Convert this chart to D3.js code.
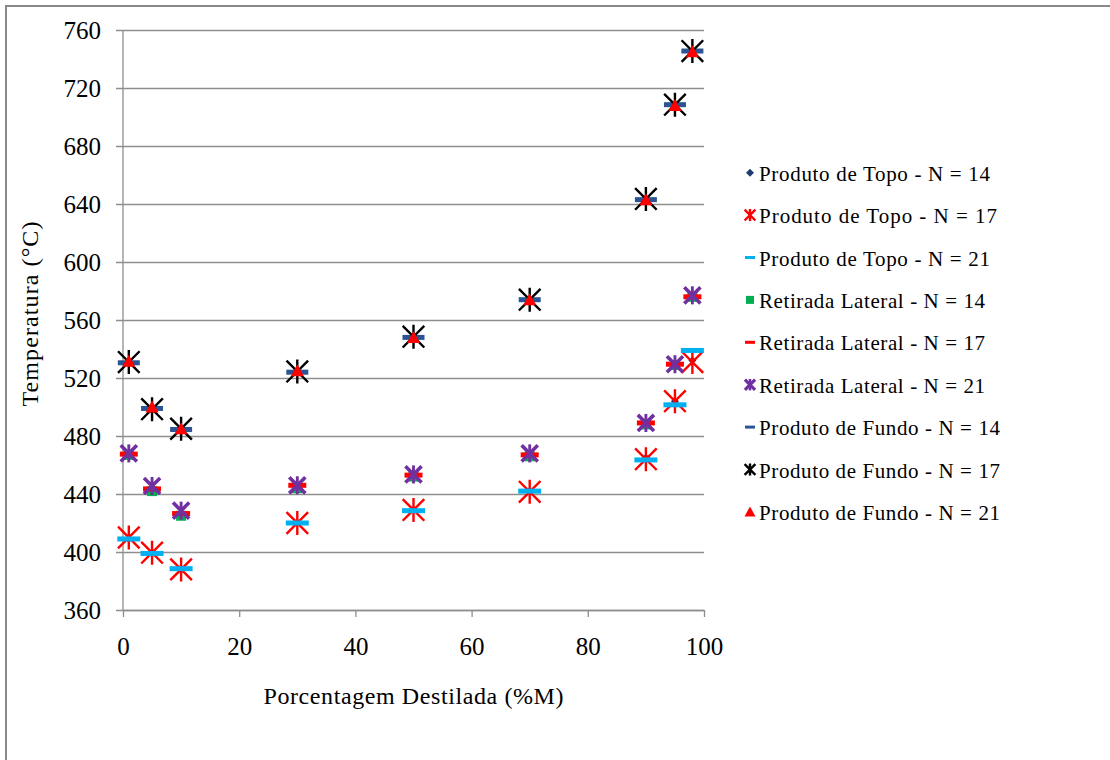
<!DOCTYPE html>
<html>
<head>
<meta charset="utf-8">
<script src="https://cdn.jsdelivr.net/npm/d3@7"></script>
<style>
  html, body { margin: 0; padding: 0; background: #fff; }
  svg { display: block; }
</style>
</head>
<body>
<svg id="chart" width="1110" height="760" font-family="Liberation Serif, Times New Roman, serif"></svg>
<script>
// Distilled fraction (%M) at which each temperature was recorded
const distilled = [1, 5, 10, 30, 50, 70, 90, 95, 98];

// Temperatures (°C) per product stream and number of stages
const topoN14 = [409, 399, 388, 420, 429, 442, 465, 504, 532];
const topoN17 = [410, 399.5, 388, 420, 429, 441.5, 464, 504, 531];
const topoN21 = [409, 399, 388.5, 420, 428.5, 442, 463.5, 501.5, 539];
const lateralN14 = [467, 442, 425, 444, 452, 466, 488, 529, 576];
const lateralN17 = [467.5, 443.5, 426.5, 446, 453, 467, 489, 529.5, 576];
const lateralN21 = [468, 445.5, 428.5, 446, 453.5, 468, 489, 529.5, 577];
const fundoN14 = [530.5, 499, 484.5, 524, 548, 574, 643, 708.5, 745.5];
const fundoN17 = [531, 498.5, 485, 524.5, 548.5, 574, 643.5, 708.5, 745.5];
const fundoN21 = [531.5, 500, 485, 525, 548, 574, 643, 708, 745];

const seriesNames = [
  "Produto de Topo - N = 14",
  "Produto de Topo -  N = 17",
  "Produto de Topo - N = 21",
  "Retirada Lateral - N = 14",
  "Retirada Lateral - N = 17",
  "Retirada Lateral - N = 21",
  "Produto de Fundo - N = 14",
  "Produto de Fundo - N = 17",
  "Produto de Fundo - N = 21"
];
const seriesValues = [topoN14, topoN17, topoN21, lateralN14, lateralN17, lateralN21, fundoN14, fundoN17, fundoN21];

const xTicks = [0, 20, 40, 60, 80, 100];
const yTicks = [360, 400, 440, 480, 520, 560, 600, 640, 680, 720, 760];

const xTitle = "Porcentagem Destilada (%M)";
const yTitle = "Temperatura (°C)";

const FONT = "Liberation Serif, Times New Roman, serif";

// Marker styling, one per series (in drawing order)
const markerStyles = [
  { type: "diamond", color: "#1f3a6e", size: 8 },
  { type: "star", color: "#ff0000", size: 24, width: 2.4 },
  { type: "dash", color: "#00b0f0", w: 23, h: 5 },
  { type: "square", color: "#00b050", size: 10 },
  { type: "dash", color: "#ff0000", w: 18, h: 5 },
  { type: "xstar", color: "#7030a0", size: 19, width: 3.6 },
  { type: "dash", color: "#2b5592", w: 22, h: 5 },
  { type: "star", color: "#000000", size: 24, width: 2.4 },
  { type: "triangle", color: "#ff0000", size: 13 }
];
const legendMarkerStyles = [
  { type: "diamond", color: "#1f3a6e", size: 8 },
  { type: "star", color: "#ff0000", size: 12, width: 2.4 },
  { type: "dash", color: "#00b0f0", w: 10, h: 3 },
  { type: "square", color: "#00b050", size: 8 },
  { type: "dash", color: "#ff0000", w: 10, h: 3 },
  { type: "xstar", color: "#7030a0", size: 12, width: 3.2 },
  { type: "dash", color: "#2b5592", w: 10, h: 3 },
  { type: "star", color: "#000000", size: 12, width: 2.4 },
  { type: "triangle", color: "#ff0000", size: 11 }
];
const legendTextWidths = [231, 238, 231, 226, 226, 226, 241, 241, 241];

const svg = d3.select("#chart");

// Outer chart frame
svg.append("rect")
  .attr("x", 6).attr("y", 6)
  .attr("width", 1120).attr("height", 770)
  .attr("fill", "#fff")
  .attr("stroke", "#898989")
  .attr("stroke-width", 2);

const plot = { left: 123, right: 704, top: 30, bottom: 610 };

const x = d3.scaleLinear().domain([0, 100]).range([plot.left, plot.right]);
const y = d3.scaleLinear().domain([360, 760]).range([plot.bottom, plot.top]);

const gridColor = "#8e8e8e";

// Horizontal gridlines with left ticks
const yAxis = d3.axisLeft(y)
  .tickValues(yTicks)
  .tickSize(-(plot.right - plot.left))
  .tickSizeOuter(0)
  .tickPadding(22)
  .tickFormat(d3.format("d"));

const gy = svg.append("g")
  .attr("transform", `translate(${plot.left},0)`)
  .call(yAxis)
  .attr("font-family", FONT)
  .attr("font-size", 25);
gy.select(".domain").remove();
gy.selectAll(".tick line")
  .attr("x1", -7)
  .attr("stroke", gridColor)
  .attr("stroke-width", 1.3);
gy.selectAll(".tick text").attr("fill", "#000");

// Vertical axis line
svg.append("line")
  .attr("x1", plot.left).attr("x2", plot.left)
  .attr("y1", plot.top).attr("y2", plot.bottom)
  .attr("stroke", gridColor).attr("stroke-width", 1.3);

// Bottom axis
const xAxis = d3.axisBottom(x)
  .tickValues(xTicks)
  .tickSize(7)
  .tickSizeOuter(0)
  .tickPadding(20)
  .tickFormat(d3.format("d"));

const gx = svg.append("g")
  .attr("transform", `translate(0,${plot.bottom})`)
  .call(xAxis)
  .attr("font-family", FONT)
  .attr("font-size", 25);
gx.select(".domain").attr("stroke", gridColor).attr("stroke-width", 1.3);
gx.selectAll(".tick line").attr("stroke", gridColor).attr("stroke-width", 1.3);
gx.selectAll(".tick text").attr("fill", "#000");

// Axis titles
svg.append("text")
  .attr("x", (plot.left + plot.right) / 2)
  .attr("y", 704)
  .attr("text-anchor", "middle")
  .attr("font-size", 24)
  .attr("textLength", 300)
  .attr("lengthAdjust", "spacing")
  .text(xTitle);

svg.append("text")
  .attr("transform", "translate(38,314) rotate(-90)")
  .attr("text-anchor", "middle")
  .attr("font-size", 24)
  .attr("textLength", 185)
  .attr("lengthAdjust", "spacing")
  .text(yTitle);

// Marker drawing
function drawMarker(g, s) {
  if (s.type === "diamond") {
    const r = s.size / 2;
    g.append("path").attr("d", `M0,${-r}L${r},0L0,${r}L${-r},0Z`).attr("fill", s.color);
  } else if (s.type === "square") {
    g.append("rect").attr("x", -s.size / 2).attr("y", -s.size / 2)
      .attr("width", s.size).attr("height", s.size).attr("fill", s.color);
  } else if (s.type === "dash") {
    g.append("rect").attr("x", -s.w / 2).attr("y", -s.h / 2)
      .attr("width", s.w).attr("height", s.h).attr("fill", s.color);
  } else if (s.type === "triangle") {
    const r = s.size / 2;
    g.append("path").attr("d", `M0,${-r}L${r},${r * 0.85}L${-r},${r * 0.85}Z`).attr("fill", s.color);
  } else if (s.type === "star") {
    const r = s.size / 2;
    const d = r * 0.9;
    g.append("path")
      .attr("d", `M${-d},${-d}L${d},${d}M${d},${-d}L${-d},${d}M0,${-r}L0,${r}`)
      .attr("stroke", s.color).attr("stroke-width", s.width).attr("fill", "none");
  } else if (s.type === "xstar") {
    const r = s.size / 2;
    const d = r * 0.85;
    g.append("path")
      .attr("d", `M${-d},${-d}L${d},${d}M${d},${-d}L${-d},${d}`)
      .attr("stroke", s.color).attr("stroke-width", s.width).attr("fill", "none");
    g.append("path")
      .attr("d", `M0,${-r * 0.95}L0,${r * 0.95}`)
      .attr("stroke", s.color).attr("stroke-width", s.width * 0.8).attr("fill", "none");
  }
}

// Data points, one group per series
seriesValues.forEach((vals, i) => {
  const g = svg.append("g").attr("class", "series");
  vals.forEach((v, j) => {
    const m = g.append("g").attr("transform", `translate(${x(distilled[j])},${y(v)})`);
    drawMarker(m, markerStyles[i]);
  });
});

// Legend
const legendTop = 172.7;
const legendStep = 42.4;
const legend = svg.append("g").attr("font-family", FONT);
seriesNames.forEach((name, i) => {
  const cy = legendTop + i * legendStep;
  const m = legend.append("g").attr("transform", `translate(750,${cy})`);
  drawMarker(m, legendMarkerStyles[i]);
  legend.append("text")
    .attr("x", 759)
    .attr("y", cy + 8)
    .attr("font-size", 21)
    .attr("textLength", legendTextWidths[i])
    .attr("lengthAdjust", "spacing")
    .text(name);
});
</script>
</body>
</html>
